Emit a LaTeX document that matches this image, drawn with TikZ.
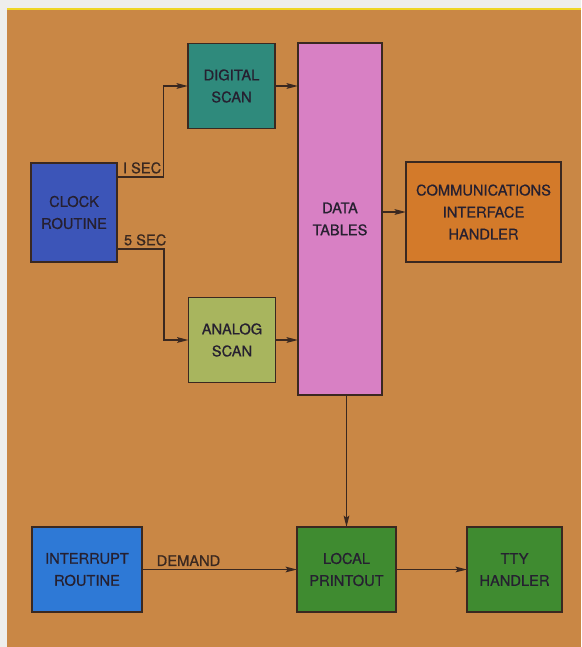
\documentclass[tikz,border=0pt]{standalone}
\usepackage{fontspec}
\setsansfont{TeX Gyre Heros}[FakeBold=0.7]
\usepackage{tikz}
\usetikzlibrary{
  arrows.meta,
  positioning,
  calc,
}
\definecolor{paper}{HTML}{EEEEEC}
\definecolor{tan}{HTML}{C98745}
\definecolor{ink}{HTML}{3A2820}
\definecolor{letter}{HTML}{262030}
\definecolor{clockblue}{HTML}{3C55B8}
\definecolor{scanteal}{HTML}{2F8A7C}
\definecolor{scanolive}{HTML}{A8B55E}
\definecolor{tablepink}{HTML}{D880C4}
\definecolor{commorange}{HTML}{D37A2A}
\definecolor{irqblue}{HTML}{2E79D6}
\definecolor{outgreen}{HTML}{3F8B30}
\tikzset{
  >={Stealth[length=8.5pt, width=4.2pt, inset=1.5pt]},
  font=\sffamily\fontsize{11}{16.5}\selectfont,
  every node/.append style={text=letter},
  block/.style={
    draw=ink,
    fill=#1,
    line width=1.3pt,
    inner sep=0pt,
    outer sep=0pt,
    align=center,
  },
  wire/.style={draw=ink, line width=1.3pt},
  lbl/.style={text=ink, inner sep=2pt},
}

\begin{document}
\begin{tikzpicture}[x=0.75pt,y=-0.75pt]
  \fill[paper] (0,0) rectangle (581,647);
  \fill[tan] (7,9) rectangle (581,647);
  \draw[yellow!70!tan, line width=0.8pt] (7,9) -- (581,9);

  % blocks
  \node[block=clockblue, minimum width=64.5pt, minimum height=74.25pt] (clock) at (74,212.5) {CLOCK\\ROUTINE};
  \node[block=scanteal, minimum width=65.25pt, minimum height=63.75pt] (digital) at (231.5,86) {DIGITAL\\SCAN};
  \node[block=scanolive, minimum width=65.25pt, minimum height=63.75pt] (analog) at (232,340) {ANALOG\\SCAN};
  \node[block=tablepink, minimum width=63pt, minimum height=264pt] (tables) at (340,219) {DATA\\TABLES};
  \node[block=commorange, minimum width=116.25pt, minimum height=75pt] (comms) at (483.5,212) {COMMUNICATIONS\\INTERFACE\\HANDLER};
  \node[block=irqblue, minimum width=82.5pt, minimum height=63.75pt] (irq) at (87,569.5) {INTERRUPT\\ROUTINE};
  \node[block=outgreen, minimum width=74.25pt, minimum height=63.75pt] (local) at (346.5,569.5) {LOCAL\\PRINTOUT};
  \node[block=outgreen, minimum width=71.25pt, minimum height=63.75pt] (tty) at (514.5,569.5) {TTY\\HANDLER};

  % clock outputs
  \draw[wire, ->] ([yshift=26.6pt]clock.east) -| ([xshift=-18.4pt]digital.west)
    node[lbl, above, pos=0.27] (onesec) {I SEC} -- (digital.west);
  \draw[wire, ->] ([yshift=-27.4pt]clock.east) -| ([xshift=-18.4pt]analog.west)
    node[lbl, above, pos=0.3] (fivesec) {5 SEC} -- (analog.west);

  % into and out of the tables
  \draw[wire, ->] (digital.east) -- (digital.east -| tables.west);
  \draw[wire, ->] (analog.east) -- (analog.east -| tables.west);
  \draw[wire, ->] (comms.west -| tables.east) -- (comms.west);
  \draw[wire, ->] (local.north |- tables.south) -- (local.north);

  % printout chain
  \draw[wire, ->] (irq.east) -- (local.west)
    node[lbl, above, pos=0.3] (demand) {DEMAND};
  \draw[wire, ->] (local.east) -- (tty.west);
\end{tikzpicture}
\end{document}
